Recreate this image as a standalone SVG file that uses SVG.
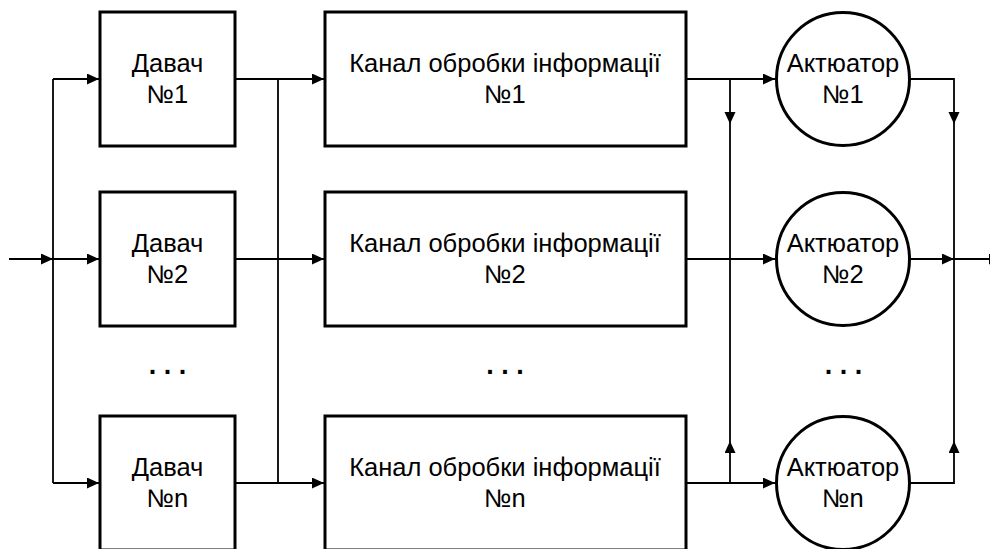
<svg xmlns="http://www.w3.org/2000/svg" width="990" height="549" viewBox="0 0 990 549">
  <defs>
    <marker id="arrow" markerUnits="userSpaceOnUse" markerWidth="14" markerHeight="12" refX="12" refY="5.5" orient="auto">
      <path d="M0 0 L12 5.5 L0 11 Z" fill="#000"/>
    </marker>
    <style>
      .box { fill: #fff; stroke: #000; stroke-width: 3; }
      .wire { fill: none; stroke: #000; stroke-width: 1.8; }
      .arr { marker-end: url(#arrow); }
      .lbl { font-family: "Liberation Sans", Arial, sans-serif; font-size: 25.5px; text-anchor: middle; fill: #000; }
      .dots { font-family: "Liberation Sans", Arial, sans-serif; font-size: 27px; font-weight: bold; text-anchor: middle; fill: #000; }
    </style>
  </defs>
  <rect width="990" height="549" fill="#fff"/>

  <!-- connectors -->
  <g id="connectors">
    <!-- input and left distribution bus -->
    <path class="wire arr" d="M9 259 H53"/>
    <path class="wire" d="M53 79 V483"/>
    <path class="wire arr" d="M53 79 H99"/>
    <path class="wire arr" d="M53 259 H99"/>
    <path class="wire arr" d="M53 483 H99"/>
    <!-- sensors to processing channels -->
    <path class="wire" d="M278 79 V483"/>
    <path class="wire arr" d="M235 79 H324"/>
    <path class="wire arr" d="M235 259 H324"/>
    <path class="wire arr" d="M235 483 H324"/>
    <!-- channels to actuators -->
    <path class="wire arr" d="M686 79 H775"/>
    <path class="wire arr" d="M686 259 H775"/>
    <path class="wire arr" d="M686 483 H775"/>
    <path class="wire arr" d="M730 79 V124"/>
    <path class="wire" d="M730 124 V441"/>
    <path class="wire arr" d="M730 483 V441"/>
    <!-- actuator outputs -->
    <path class="wire arr" d="M910 79 H954 V124"/>
    <path class="wire" d="M954 124 V441"/>
    <path class="wire arr" d="M910 483 H954 V441"/>
    <path class="wire arr" d="M910 259 H954"/>
    <path class="wire arr" d="M954 259 H1001"/>
  </g>

  <!-- sensors -->
  <g id="sensor1">
    <rect class="box" x="100" y="12" width="135" height="134"/>
    <text class="lbl" x="167.5" y="72">Давач</text>
    <text class="lbl" x="167.5" y="103">№1</text>
  </g>
  <g id="sensor2">
    <rect class="box" x="100" y="192" width="135" height="134"/>
    <text class="lbl" x="167.5" y="252">Давач</text>
    <text class="lbl" x="167.5" y="283">№2</text>
  </g>
  <g id="sensorN">
    <rect class="box" x="100" y="416" width="135" height="134"/>
    <text class="lbl" x="167.5" y="476">Давач</text>
    <text class="lbl" x="167.5" y="507">№n</text>
  </g>

  <!-- processing channels -->
  <g id="channel1">
    <rect class="box" x="325" y="12" width="361" height="134"/>
    <text class="lbl" x="505" y="72">Канал обробки інформації</text>
    <text class="lbl" x="505" y="103">№1</text>
  </g>
  <g id="channel2">
    <rect class="box" x="325" y="192" width="361" height="134"/>
    <text class="lbl" x="505" y="252">Канал обробки інформації</text>
    <text class="lbl" x="505" y="283">№2</text>
  </g>
  <g id="channelN">
    <rect class="box" x="325" y="416" width="361" height="134"/>
    <text class="lbl" x="505" y="476">Канал обробки інформації</text>
    <text class="lbl" x="505" y="507">№n</text>
  </g>

  <!-- actuators -->
  <g id="actuator1">
    <circle class="box" cx="843" cy="79" r="66.5"/>
    <text class="lbl" x="843" y="72">Актюатор</text>
    <text class="lbl" x="843" y="103">№1</text>
  </g>
  <g id="actuator2">
    <circle class="box" cx="843" cy="259" r="66.5"/>
    <text class="lbl" x="843" y="252">Актюатор</text>
    <text class="lbl" x="843" y="283">№2</text>
  </g>
  <g id="actuatorN">
    <circle class="box" cx="843" cy="483" r="66.5"/>
    <text class="lbl" x="843" y="476">Актюатор</text>
    <text class="lbl" x="843" y="507">№n</text>
  </g>

  <!-- ellipsis between rows -->
  <text class="dots" x="167.5" y="374">. . .</text>
  <text class="dots" x="505" y="374">. . .</text>
  <text class="dots" x="843.5" y="374">. . .</text>
</svg>
